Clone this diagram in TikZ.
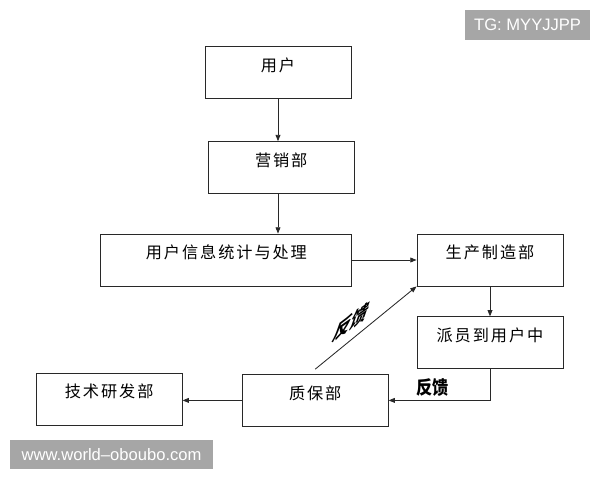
\documentclass[tikz,border=0pt]{standalone}
\usepackage{fontspec}
\setmainfont{Liberation Sans}
\newfontfamily\cjk[LetterSpace=12]{Noto Sans CJK SC}
\newfontfamily\cjkfb{Noto Sans CJK SC}
\usetikzlibrary{arrows.meta, positioning, calc}
\definecolor{markgray}{RGB}{166, 166, 166}
\definecolor{linegray}{RGB}{40, 40, 40}

\begin{document}
\begin{tikzpicture}[
  dept/.style={draw=linegray, line width=0.6pt, minimum width=3.65cm, inner xsep=0pt, inner ysep=0pt,
    text height=0.62cm, text depth=0.68cm, font=\cjk\fontsize{11.5}{13}\selectfont},
  flow/.style={draw=linegray, line width=0.6pt, -{Triangle[length=4.5pt, width=3.5pt]}},
  tag/.style={fill=markgray, text=white, inner sep=0pt, font=\fontsize{11.8}{13}\selectfont}
]
  \useasboundingbox (0, 0) rectangle (15, 12);

  % Departments
  \node[dept] (yonghu) at (6.95, 10.19) {用户};
  \node[dept] (yingxiao) at (7.03, 7.81) {营销部};
  \node[dept, minimum width=6.275cm] (xinxi) at (5.66, 5.5) {用户信息统计与处理};
  \node[dept] (shengchan) at (12.25, 5.5) {生产制造部};
  \node[dept] (paiyuan) at (12.25, 3.43) {派员到用户中};
  \node[dept] (zhibao) at (7.88, 1.99) {质保部};
  \node[dept] (jishu) at (2.73, 2.02) {技术研发部};

  % Flow
  \draw[flow] (yonghu.south) -- (yonghu.south |- yingxiao.north);
  \draw[flow] (yonghu.south |- yingxiao.south) -- (yonghu.south |- xinxi.north);
  \draw[flow] (xinxi.east) -- (shengchan.west);
  \draw[flow] (shengchan.south) -- (paiyuan.north);
  \draw[flow] (paiyuan.south) |- (zhibao.east);
  \draw[flow] ([yshift=0.12cm]zhibao.north) -- (shengchan.south west);
  \draw[flow] (zhibao.west) -- (zhibao.west -| jishu.east);

  % Feedback labels
  \node[font=\cjkfb\bfseries\fontsize{11.5}{13}\selectfont, yscale=1.15, transform shape, inner sep=0pt] (fankui) at (10.82, 2.3) {反馈};
  \begin{scope}[shift={(8.8, 3.95)}]
    \node[cm={1.15, 0.8, 0.55, 1.55, (0, 0)}, transform shape, inner sep=0pt,
      font=\cjkfb\bfseries\fontsize{10.5}{12}\selectfont] (fankuixie) at (0, 0) {反馈};
  \end{scope}

  % Watermarks
  \node[tag, minimum width=3.125cm, minimum height=0.75cm] (tg) at (13.19, 11.375) {TG: MYYJJPP};
  \node[tag, minimum width=5.075cm, minimum height=0.725cm] (www) at (2.79, 0.64) {www.world–oboubo.com};
\end{tikzpicture}
\end{document}
